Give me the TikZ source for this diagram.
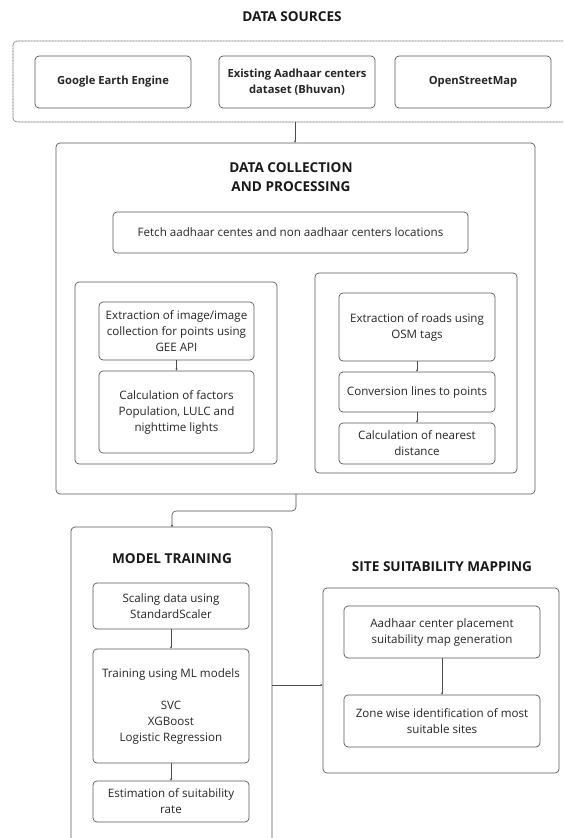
\documentclass[tikz,border=0pt]{standalone}
\usepackage{fontspec}
\setmainfont{Open Sans}
\usetikzlibrary{arrows.meta}
\begin{document}
\begin{tikzpicture}[x=1pt,y=-1pt,
  box/.style={draw=black!65, line width=0.7pt, rounded corners=4pt, align=center,
    inner sep=0pt, font=\fontsize{11.6}{16}\selectfont, text=black!85},
  grp/.style={draw=black!65, line width=0.7pt, rounded corners=4pt, inner sep=0pt},
  dsbox/.style={draw=black!60, line width=0.6pt, dash pattern=on 1pt off 0.5pt, rounded corners=4pt, inner sep=0pt},
  ttl/.style={font=\bfseries\fontsize{13.6}{19}\selectfont, align=center, text=black!90},
  bold/.style={font=\bfseries\fontsize{11.2}{16}\selectfont},
  conn/.style={draw=black!70, line width=0.6pt, -{Stealth[length=2.2pt,width=2.2pt]}}
]
\clip (0,0) rectangle (563,838);
\fill[white] (0,0) rectangle (563,838);

% DATA SOURCES
\node[ttl] (tds) at (292,17) {DATA SOURCES};
\node[dsbox, minimum width=560, minimum height=81] (ds) at (293,81.5) {};
\node[box, bold, minimum width=156, minimum height=52] (gee) at (113,82) {Google Earth Engine};
\node[box, bold, minimum width=156, minimum height=52] (bhuvan) at (297,82) {Existing Aadhaar centers\\dataset (Bhuvan)};
\node[box, bold, minimum width=156, minimum height=52] (osm) at (473,82) {OpenStreetMap};

% DATA COLLECTION AND PROCESSING
\node[grp, minimum width=479, minimum height=351] (dcp) at (295.5,318.5) {};
\node[ttl] (tdcp) at (291,177) {DATA COLLECTION\\AND PROCESSING};
\node[box, minimum width=355, minimum height=41] (fetch) at (290.5,232.5) {Fetch aadhaar centes and non aadhaar centers locations};

\node[grp, minimum width=202, minimum height=182] (lgrp) at (176,373) {};
\node[box, minimum width=155, minimum height=58] (ext) at (176.5,331) {Extraction of image/image\\collection for points using\\GEE API};
\node[box, minimum width=155, minimum height=82] (calc) at (176.5,412) {Calculation of factors\\Population, LULC and\\nighttime lights};

\node[grp, minimum width=202, minimum height=200] (rgrp) at (416,373) {};
\node[box, minimum width=156, minimum height=68] (roads) at (417,327) {Extraction of roads using\\OSM tags};
\node[box, minimum width=156, minimum height=40] (conv) at (417,392) {Conversion lines to points};
\node[box, minimum width=156, minimum height=41] (near) at (417,443.5) {Calculation of nearest\\distance};

% MODEL TRAINING
\node[grp, minimum width=201, minimum height=318] (mt) at (171.5,686) {};
\node[ttl] (tmt) at (172,559) {MODEL TRAINING};
\node[box, minimum width=156, minimum height=46] (scale) at (171,606) {Scaling data using\\StandardScaler};
\node[box, minimum width=156, minimum height=114] (train) at (171,706) {Training using ML models\\[16pt]SVC\\XGBoost\\Logistic Regression};
\node[box, minimum width=156, minimum height=41] (est) at (171,801.5) {Estimation of suitability\\rate};

% SITE SUITABILITY MAPPING
\node[ttl] (tssm) at (442,567) {SITE SUITABILITY MAPPING};
\node[grp, minimum width=236, minimum height=185] (ssm) at (441,680.5) {};
\node[box, minimum width=196, minimum height=52] (place) at (442,632) {Aadhaar center placement\\suitability map generation};
\node[box, minimum width=196, minimum height=52] (zone) at (442,721) {Zone wise identification of most\\suitable sites};

% connectors
\coordinate (dsb) at (295,122);
\draw[conn] (dsb) -- (dsb |- dcp.north);
\coordinate (dcpb) at (296,494);
\draw[conn, rounded corners=4pt] (dcpb) -- (296,511) -- (172,511) -- (172,527);
\draw[conn] (ext.south) -- (calc.north);
\draw[conn] (roads.south) -- (conv.north);
\draw[conn] (conv.south) -- (near.north);
\draw[conn] (scale.south) -- (train.north);
\draw[conn] (train.south) -- (est.north);
\draw[conn] (place.south) -- (zone.north);
\coordinate (mtr) at (272,685);
\draw[conn] (mtr) -- (mtr -| ssm.west);
\end{tikzpicture}
\end{document}
